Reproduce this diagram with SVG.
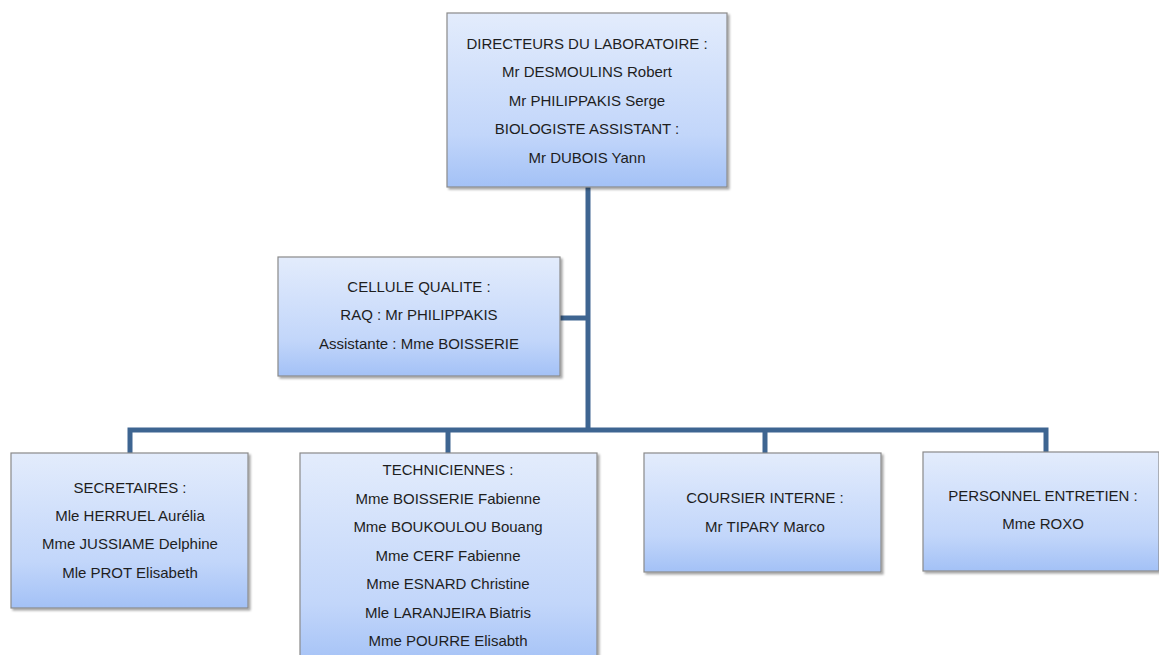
<svg xmlns="http://www.w3.org/2000/svg" width="1159" height="655" viewBox="0 0 1159 655">
<defs>
<linearGradient id="g" x1="0" y1="0" x2="0" y2="1">
<stop offset="0" stop-color="#e3ecfc"/>
<stop offset="0.7" stop-color="#c2d6fa"/>
<stop offset="1" stop-color="#a3c1f6"/>
</linearGradient>
<filter id="sh" x="-5%" y="-5%" width="115%" height="115%">
<feDropShadow dx="2" dy="2" stdDeviation="1" flood-color="#000" flood-opacity="0.35"/>
</filter>
</defs>
<style>
.box{fill:url(#g);stroke:#8a8a8a;stroke-width:1.2;filter:url(#sh)}
.t{font-family:"Liberation Sans",Arial,sans-serif;font-size:15px;fill:#1e1e1e;text-anchor:middle}
.c{fill:none;stroke:#3e6591;stroke-width:5}
</style>
<rect width="1159" height="655" fill="#fff"/>
<g id="connectors">
<path class="c" d="M588 187 V430"/>
<path class="c" d="M560 318 H588"/>
<path class="c" d="M130 453 V430 H1046 V452"/>
<path class="c" d="M448 430 V453"/>
<path class="c" d="M765 430 V453"/>
</g>
<g id="directeurs">
<rect class="box" x="447" y="13" width="280" height="174"/>
<text class="t" x="587" y="49">DIRECTEURS DU LABORATOIRE :</text>
<text class="t" x="587" y="77">Mr DESMOULINS Robert</text>
<text class="t" x="587" y="106">Mr PHILIPPAKIS Serge</text>
<text class="t" x="587" y="134">BIOLOGISTE  ASSISTANT :</text>
<text class="t" x="587" y="163">Mr DUBOIS Yann</text>
</g>
<g id="cellule">
<rect class="box" x="278" y="257" width="282" height="119"/>
<text class="t" x="419" y="292">CELLULE QUALITE :</text>
<text class="t" x="419" y="320">RAQ : Mr PHILIPPAKIS</text>
<text class="t" x="419" y="349">Assistante : Mme BOISSERIE</text>
</g>
<g id="secretaires">
<rect class="box" x="11" y="453" width="237" height="155"/>
<text class="t" x="130" y="493">SECRETAIRES :</text>
<text class="t" x="130" y="521">Mle HERRUEL Aurélia</text>
<text class="t" x="130" y="549">Mme JUSSIAME Delphine</text>
<text class="t" x="130" y="578">Mle PROT Elisabeth</text>
</g>
<g id="techniciennes">
<rect class="box" x="300" y="453" width="297" height="215"/>
<text class="t" x="448" y="475">TECHNICIENNES :</text>
<text class="t" x="448" y="504">Mme BOISSERIE Fabienne</text>
<text class="t" x="448" y="532">Mme BOUKOULOU Bouang</text>
<text class="t" x="448" y="561">Mme CERF Fabienne</text>
<text class="t" x="448" y="589">Mme ESNARD Christine</text>
<text class="t" x="448" y="618">Mle LARANJEIRA Biatris</text>
<text class="t" x="448" y="646">Mme POURRE Elisabth</text>
</g>
<g id="coursier">
<rect class="box" x="644" y="453" width="237" height="119"/>
<text class="t" x="765" y="503">COURSIER INTERNE :</text>
<text class="t" x="765" y="532">Mr TIPARY Marco</text>
</g>
<g id="entretien">
<rect class="box" x="923" y="452" width="236" height="119"/>
<text class="t" x="1043" y="501">PERSONNEL ENTRETIEN :</text>
<text class="t" x="1043" y="529">Mme ROXO</text>
</g>
</svg>
